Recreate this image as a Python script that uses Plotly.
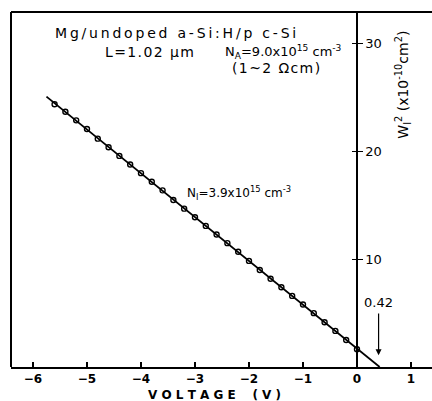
import plotly.graph_objects as go

# measured points
voltage = [-5.6, -5.4, -5.2, -5.0, -4.8, -4.6, -4.4, -4.2, -4.0, -3.8, -3.6, -3.4,
           -3.2, -3.0, -2.8, -2.6, -2.4, -2.2, -2.0, -1.8, -1.6, -1.4, -1.2, -1.0,
           -0.8, -0.6, -0.4, -0.2, 0.0]
w2 = [24.4, 23.7, 22.9, 22.1, 21.2, 20.4, 19.6, 18.8, 18.0, 17.2, 16.4, 15.5,
      14.7, 13.9, 13.1, 12.3, 11.5, 10.7, 9.85, 9.0, 8.2, 7.4, 6.6, 5.8,
      5.0, 4.15, 3.35, 2.5, 1.65]
# fitted straight line
fit_v = [-5.75, 0.42]
fit_w2 = [25.1, 0.0]

x_ticks = [-6, -5, -4, -3, -2, -1, 0, 1]
y_ticks = [10, 20, 30]

W, H = 432, 401
ml, mr, mt, mb = 11, 0, 12, 34
xr = [-6.407, 1.389]
yr = [0, 32.96]
ypos = (0 - xr[0]) / (xr[1] - xr[0])

FONT = "DejaVu Sans"

def spaced(s, sep="\u2009"):
    return sep.join(s)

fig = go.Figure()
fig.add_trace(go.Scatter(x=fit_v, y=fit_w2, mode="lines",
                         line=dict(color="black", width=1.8), showlegend=False))
fig.add_trace(go.Scatter(x=voltage, y=w2, mode="markers",
                         marker=dict(symbol="circle-open", size=5, color="black",
                                     line=dict(width=1.4)), showlegend=False))

fig.update_layout(
    width=W, height=H,
    margin=dict(l=ml, r=mr, t=mt, b=mb, pad=0),
    paper_bgcolor="white", plot_bgcolor="white",
    font=dict(family=FONT, color="black"),
    xaxis=dict(range=xr, tickvals=x_ticks, ticks="inside", ticklen=5,
               tickwidth=1.5, tickcolor="black", showgrid=False, zeroline=False,
               showline=True, linecolor="black", linewidth=2,
               tickfont=dict(size=12, family=FONT, weight="bold"), ticklabelstandoff=0),
    yaxis=dict(range=yr, tickvals=y_ticks, ticks="outside", ticklen=5,
               tickwidth=1.2, tickcolor="black", showgrid=False, zeroline=False,
               showline=True, linecolor="black", linewidth=1.5,
               anchor="free", position=ypos, side="right",
               tickfont=dict(size=13, family=FONT)),
    yaxis2=dict(range=yr, tickvals=y_ticks, ticks="inside", ticklen=5,
                tickwidth=1.2, tickcolor="black", showgrid=False, zeroline=False,
                showticklabels=False, overlaying="y", anchor="free",
                position=ypos, side="right"),
)
# dummy trace to show yaxis2
fig.add_trace(go.Scatter(x=[None], y=[None], yaxis="y2", showlegend=False))

# frame: left and top
fig.add_shape(type="line", xref="paper", yref="paper", x0=0, x1=0, y0=0, y1=1,
              line=dict(color="black", width=2))
fig.add_shape(type="line", xref="paper", yref="paper", x0=0, x1=1, y0=1, y1=1,
              line=dict(color="black", width=2))

def ann(text, x, y, size=12, xanchor="left", **kw):
    fig.add_annotation(text=text, x=x, y=y, xref="x", yref="y", showarrow=False,
                       xanchor=xanchor, yanchor="middle",
                       font=dict(size=size, family=FONT, color="black"), **kw)

ann(spaced("Mg/undoped a-Si:H/p c-Si"), -5.63, 31.0, size=14)
ann(spaced("L=1.02 μm", "\u200a"), -4.70, 29.25, size=14)
ann("N<sub>A</sub>=9.0x10<sup>15</sup> cm<sup>-3</sup>", -2.48, 29.25, size=13)
ann(spaced("(1~2 Ωcm)", "\u200a"), -2.35, 27.76, size=14)
ann("N<sub>I</sub>=3.9x10<sup>15</sup> cm<sup>-3</sup>", -3.19, 16.2, size=12)
ann("0.42", 0.39, 5.95, size=13, xanchor="center")
ann("W<sub>I</sub><sup>2</sup> (x10<sup>-10</sup>cm<sup>2</sup>)", 0.85, 26.2, size=14,
    xanchor="center", textangle=-90)

fig.add_annotation(x=0.40, y=1.1, ax=0.40, ay=5.1, xref="x", yref="y",
                   axref="x", ayref="y", text="", showarrow=True,
                   arrowhead=2, arrowsize=1, arrowwidth=1.2, arrowcolor="black")

fig.add_annotation(text="V O L T A G E    ( V )", x=-2.63, y=0, xref="x",
                   yref="paper", yshift=-28, showarrow=False, xanchor="center",
                   yanchor="middle", font=dict(size=12, family=FONT, weight="bold"))

fig.write_html("out.html")
